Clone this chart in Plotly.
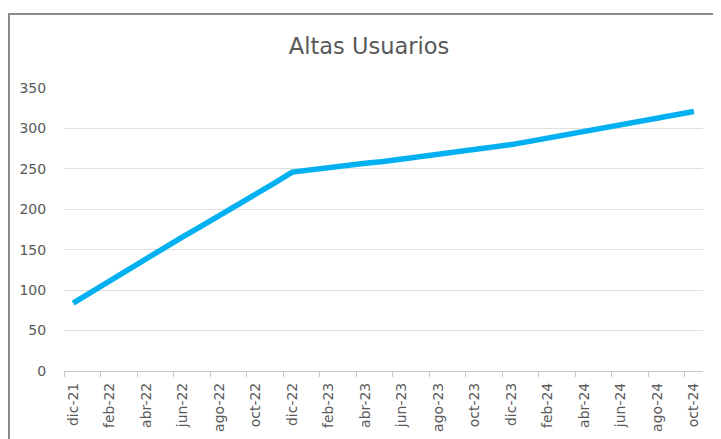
import plotly.graph_objects as go

months = ["dic-21", "ene-22", "feb-22", "mar-22", "abr-22", "may-22", "jun-22", "jul-22",
          "ago-22", "sep-22", "oct-22", "nov-22", "dic-22", "ene-23", "feb-23", "mar-23",
          "abr-23", "may-23", "jun-23", "jul-23", "ago-23", "sep-23", "oct-23", "nov-23",
          "dic-23", "ene-24", "feb-24", "mar-24", "abr-24", "may-24", "jun-24", "jul-24",
          "ago-24", "sep-24", "oct-24"]
altas = [84, 98, 112, 125, 139, 152, 166, 179, 192, 206, 219, 232, 246,
         249, 251, 254, 257, 259, 262, 265, 268, 270, 273, 276,
         280, 284, 288, 292, 296, 300, 304, 309, 313, 317, 321]
title = "Altas Usuarios"
y_ticks = [0, 50, 100, 150, 200, 250, 300, 350]

idx = list(range(len(months)))
label_idx = idx[::2]
label_text = [months[i] for i in label_idx]
boundaries = [i - 0.5 for i in label_idx]

OFF = 8  # page body margin
W, H = 721 - OFF, 439 - OFF
L, R, T, B = 64 - OFF, 18, 88 - OFF, 68
pw, ph = W - L - R, H - T - B

fig = go.Figure()
fig.add_trace(go.Scatter(x=idx, y=altas, mode="lines",
                         line=dict(color="#00B0F0", width=5.5),
                         hoverinfo="skip", showlegend=False))

font_fam = "DejaVu Sans, Verdana, sans-serif"
fig.update_layout(
    width=W, height=H,
    margin=dict(l=L, r=R, t=T, b=B, autoexpand=False),
    paper_bgcolor="white", plot_bgcolor="white",
    title=dict(text=title, x=(369 - OFF) / W, xanchor="center",
               y=1 - (46 - OFF) / H, yanchor="middle",
               font=dict(family=font_fam, size=22.5, color="#595959")),
    font=dict(family=font_fam, color="#595959"),
)
fig.update_xaxes(
    range=[-0.5, len(months) - 0.5], automargin=False,
    tickmode="array", tickvals=label_idx, ticktext=label_text, tickangle=-90,
    ticks="", ticklabelstandoff=5,
    tickfont=dict(size=14, color="#595959"),
    showgrid=False, zeroline=False,
    showline=True, linecolor="#c8c8c8", linewidth=1.3,
    minor=dict(tickmode="array", tickvals=boundaries, ticks="outside",
               ticklen=5, tickcolor="#c8c8c8", tickwidth=1.3, showgrid=False),
)
fig.update_yaxes(
    range=[0, 350], tickmode="array", tickvals=y_ticks, automargin=False,
    ticks="outside", ticklen=14, tickcolor="rgba(0,0,0,0)",
    tickfont=dict(size=14, color="#595959"),
    showgrid=True, gridcolor="#e0e0e0", gridwidth=1.3,
    zeroline=False, showline=False,
)

# outer chart border (top and left edges visible in the crop)
x0 = (9 - OFF - L) / pw
x1 = (W + 10 - L) / pw
y1 = (H - B - (14 - OFF)) / ph
y0 = -(B + 10) / ph
fig.add_shape(type="rect", xref="paper", yref="paper", x0=x0, x1=x1, y0=y0, y1=y1,
              line=dict(color="#8a8a8a", width=2), fillcolor="rgba(0,0,0,0)", layer="above")

fig.write_html("out.html")
